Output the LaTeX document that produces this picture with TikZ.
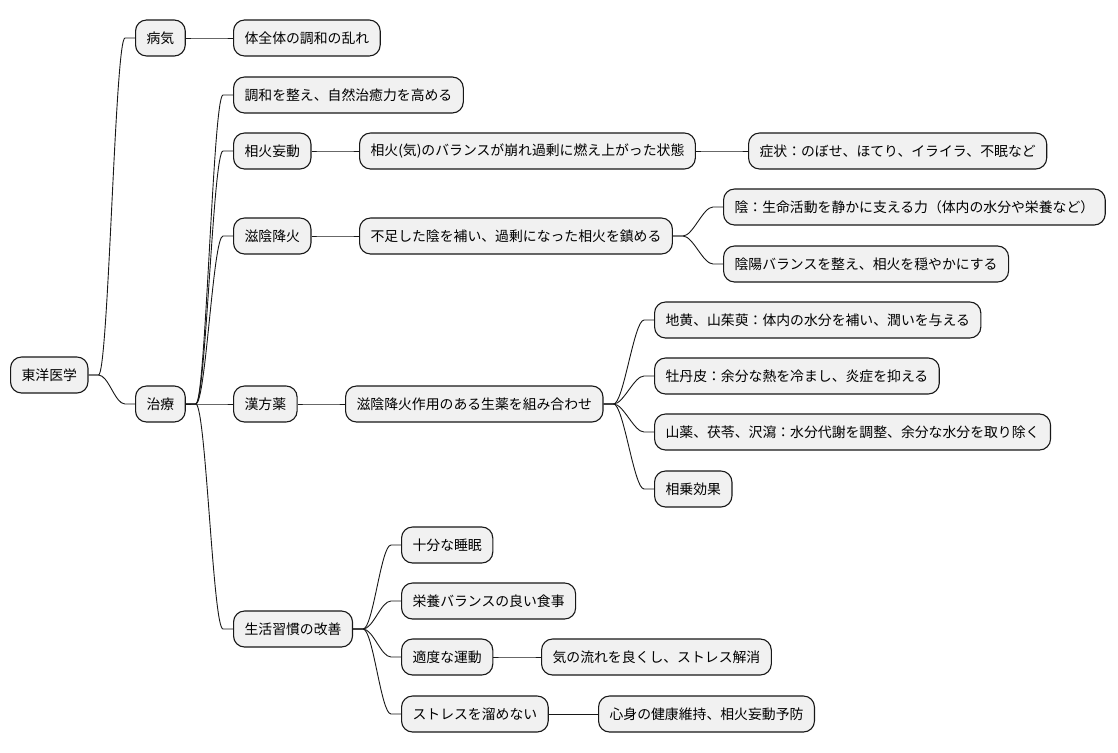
\documentclass[tikz,border=0pt]{standalone}
\usepackage{fontspec}
\newfontfamily\jpfont{Noto Sans CJK JP}
\usetikzlibrary{calc}
\definecolor{boxline}{HTML}{181818}
\definecolor{boxfill}{HTML}{F1F1F1}
\tikzset{
  mm/.style={draw=boxline, fill=boxfill, rounded corners=11pt, line width=1.1pt,
    minimum height=36pt, inner xsep=11pt, inner ysep=0pt, anchor=west,
    font=\jpfont\fontsize{13.85pt}{16pt}\selectfont},
  mmedge/.style={draw=boxline, line width=0.9pt}
}
\newcommand\mmlink[2]{\draw[mmedge] (#1.east) -- ++(10pt,0) .. controls +(10pt,0) and +(-10pt,0) .. ($(#2.west)+(-10pt,0)$) -- (#2.west);}
\begin{document}
\begin{tikzpicture}[x=1pt,y=1pt]
\path[use as bounding box, fill=white] (0,0) rectangle (1118,-752);
\node[mm] (root) at (10,-375) {東洋医学};
\node[mm] (byoki) at (135,-38) {病気};
\node[mm] (b1) at (233,-38) {体全体の調和の乱れ};
\node[mm] (chiryo) at (135,-404) {治療};
\node[mm] (t1) at (233,-95) {調和を整え、自然治癒力を高める};
\node[mm] (t2) at (233,-151) {相火妄動};
\node[mm] (t2a) at (359,-151) {相火(気)のバランスが崩れ過剰に燃え上がった状態};
\node[mm] (t2b) at (748,-151) {症状：のぼせ、ほてり、イライラ、不眠など};
\node[mm] (t3) at (233,-236) {滋陰降火};
\node[mm] (t3a) at (359,-236) {不足した陰を補い、過剰になった相火を鎮める};
\node[mm] (t3b) at (723,-207) {陰：生命活動を静かに支える力（体内の水分や栄養など）};
\node[mm] (t3c) at (723,-264) {陰陽バランスを整え、相火を穏やかにする};
\node[mm] (t4) at (233,-404) {漢方薬};
\node[mm] (t4a) at (345,-404) {滋陰降火作用のある生薬を組み合わせ};
\node[mm] (t4b) at (654,-320) {地黄、山茱萸：体内の水分を補い、潤いを与える};
\node[mm] (t4c) at (654,-376) {牡丹皮：余分な熱を冷まし、炎症を抑える};
\node[mm] (t4d) at (654,-432) {山薬、茯苓、沢瀉：水分代謝を調整、余分な水分を取り除く};
\node[mm] (t4e) at (654,-489) {相乗効果};
\node[mm] (t5) at (233,-629) {生活習慣の改善};
\node[mm] (t5a) at (401,-545) {十分な睡眠};
\node[mm] (t5b) at (401,-601) {栄養バランスの良い食事};
\node[mm] (t5c) at (401,-657) {適度な運動};
\node[mm] (t5c1) at (541,-657) {気の流れを良くし、ストレス解消};
\node[mm] (t5d) at (401,-714) {ストレスを溜めない};
\node[mm] (t5d1) at (598,-714) {心身の健康維持、相火妄動予防};
\mmlink{root}{byoki}
\mmlink{root}{chiryo}
\mmlink{byoki}{b1}
\mmlink{chiryo}{t1}
\mmlink{chiryo}{t2}
\mmlink{chiryo}{t3}
\mmlink{chiryo}{t4}
\mmlink{chiryo}{t5}
\mmlink{t2}{t2a}
\mmlink{t2a}{t2b}
\mmlink{t3}{t3a}
\mmlink{t3a}{t3b}
\mmlink{t3a}{t3c}
\mmlink{t4}{t4a}
\mmlink{t4a}{t4b}
\mmlink{t4a}{t4c}
\mmlink{t4a}{t4d}
\mmlink{t4a}{t4e}
\mmlink{t5}{t5a}
\mmlink{t5}{t5b}
\mmlink{t5}{t5c}
\mmlink{t5}{t5d}
\mmlink{t5c}{t5c1}
\mmlink{t5d}{t5d1}
\end{tikzpicture}
\end{document}
